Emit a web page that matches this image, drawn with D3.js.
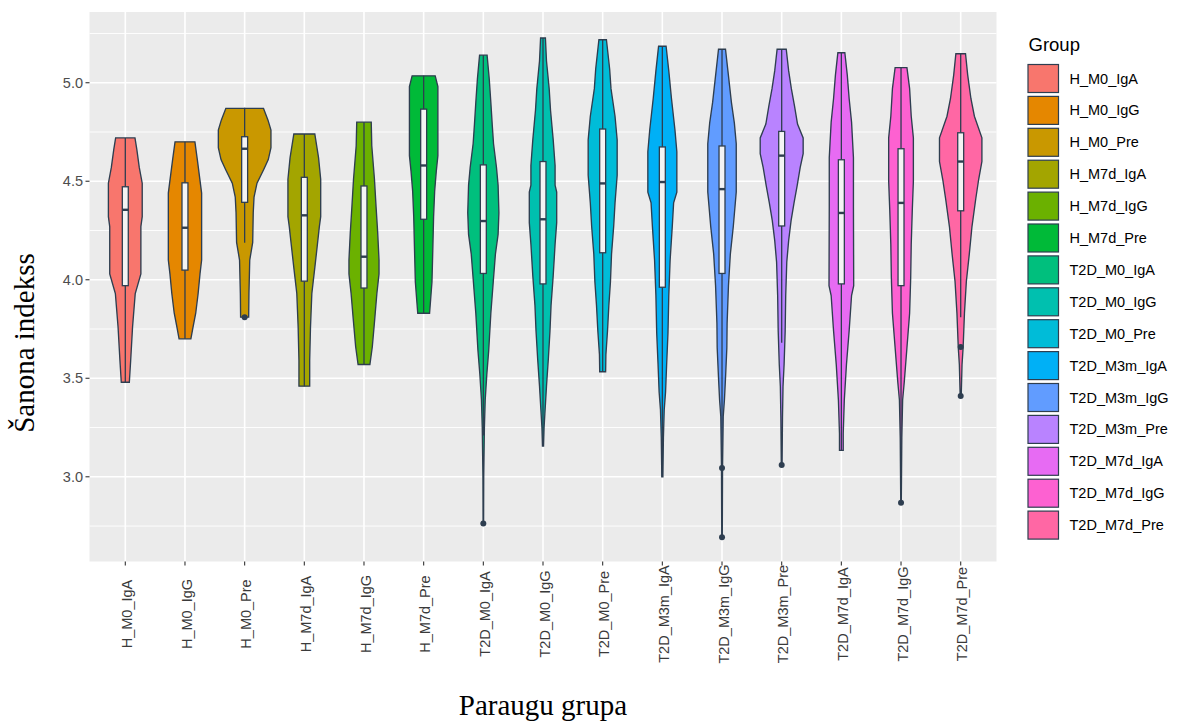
<!DOCTYPE html>
<html><head><meta charset="utf-8">
<script src="https://cdn.jsdelivr.net/npm/d3@7"></script>
<style>body{margin:0;background:#fff}</style>
</head><body><svg id="c" width="1183" height="722"></svg>
<script>
// ---------- data ----------
const groups = ["H_M0_IgA","H_M0_IgG","H_M0_Pre","H_M7d_IgA","H_M7d_IgG","H_M7d_Pre",
  "T2D_M0_IgA","T2D_M0_IgG","T2D_M0_Pre","T2D_M3m_IgA","T2D_M3m_IgG","T2D_M3m_Pre",
  "T2D_M7d_IgA","T2D_M7d_IgG","T2D_M7d_Pre"];
const fills = ["#F8766D","#E58700","#C99800","#A3A500","#6BB100","#00BA38","#00BF7D","#00C0AF",
  "#00BCD8","#00B0F6","#619CFF","#B983FF","#E76BF3","#FD61D1","#FF67A4"];
const yTicks = [3.0, 3.5, 4.0, 4.5, 5.0];
const yMinor = [2.75, 3.25, 3.75, 4.25, 4.75, 5.25];

// violin density profiles: [value, relative density]
const d01 = [[4.72,0.36],[4.66,0.43],[4.57,0.52],[4.49,0.63],[4.32,0.63],[4.27,0.58],[4.03,0.58],[3.93,0.37],[3.76,0.27],[3.59,0.20],[3.48,0.15]];
const d02 = [[4.70,0.37],[4.61,0.46],[4.44,0.62],[4.10,0.62],[4.03,0.56],[3.93,0.49],[3.83,0.40],[3.76,0.30],[3.70,0.22]];
const d03 = [[4.87,0.70],[4.81,0.87],[4.76,0.98],[4.67,0.98],[4.61,0.88],[4.56,0.71],[4.49,0.46],[4.42,0.35],[4.34,0.32],[4.19,0.30],[4.10,0.19],[3.93,0.16],[3.81,0.15]];
const d04 = [[4.74,0.39],[4.62,0.53],[4.51,0.61],[4.32,0.61],[4.27,0.56],[4.17,0.48],[4.06,0.39],[3.93,0.28],[3.76,0.23],[3.59,0.20],[3.46,0.20]];
const d05 = [[4.80,0.27],[4.68,0.29],[4.51,0.39],[4.37,0.45],[4.24,0.51],[4.10,0.56],[4.03,0.56],[3.93,0.48],[3.80,0.40],[3.66,0.31],[3.57,0.22]];
const d06 = [[5.035,0.43],[4.98,0.53],[4.63,0.53],[4.55,0.47],[4.45,0.41],[4.32,0.37],[4.15,0.34],[3.99,0.31],[3.90,0.26],[3.83,0.22]];
const d07 = [[5.14,0.14],[5.02,0.22],[4.90,0.28],[4.79,0.33],[4.69,0.38],[4.57,0.49],[4.48,0.55],[4.34,0.58],[4.23,0.55],[4.13,0.45],[3.99,0.37],[3.83,0.28],[3.64,0.20],[3.52,0.13],[3.39,0.07],[3.25,0.04],[3.00,0.015],[2.76,0.01]];
const d08 = [[5.227,0.09],[5.11,0.13],[4.97,0.23],[4.86,0.28],[4.71,0.38],[4.58,0.45],[4.48,0.45],[4.445,0.51],[4.29,0.51],[4.18,0.45],[4.02,0.38],[3.87,0.30],[3.74,0.26],[3.60,0.20],[3.46,0.13],[3.32,0.07],[3.25,0.04],[3.156,0.02]];
const d09 = [[5.218,0.14],[5.07,0.26],[4.97,0.31],[4.83,0.46],[4.71,0.54],[4.53,0.54],[4.39,0.46],[4.27,0.41],[4.13,0.33],[3.99,0.29],[3.87,0.23],[3.74,0.18],[3.62,0.12],[3.533,0.11]];
const d10 = [[5.185,0.14],[5.06,0.24],[4.92,0.34],[4.76,0.47],[4.65,0.54],[4.445,0.54],[4.39,0.42],[4.27,0.37],[4.10,0.29],[3.92,0.24],[3.73,0.21],[3.57,0.16],[3.43,0.12],[3.34,0.07],[3.20,0.04],[3.00,0.02]];
const d11 = [[5.17,0.13],[5.06,0.22],[4.90,0.35],[4.795,0.46],[4.69,0.53],[4.445,0.53],[4.27,0.42],[4.13,0.31],[3.97,0.24],[3.78,0.19],[3.655,0.18],[3.50,0.13],[3.39,0.09],[3.305,0.045],[3.05,0.02],[2.693,0.01]];
const d12 = [[5.17,0.17],[5.06,0.26],[4.97,0.36],[4.88,0.48],[4.79,0.59],[4.72,0.80],[4.64,0.80],[4.57,0.69],[4.48,0.58],[4.39,0.46],[4.30,0.35],[4.20,0.26],[4.09,0.19],[3.92,0.15],[3.74,0.13],[3.57,0.09],[3.46,0.05],[3.30,0.03],[3.06,0.015]];
const d13 = [[5.152,0.13],[5.04,0.22],[4.92,0.29],[4.80,0.38],[4.62,0.45],[4.37,0.45],[3.97,0.46],[3.92,0.38],[3.74,0.29],[3.57,0.19],[3.39,0.11],[3.22,0.07],[3.134,0.07]];
const d14 = [[5.077,0.22],[4.97,0.32],[4.83,0.38],[4.72,0.46],[4.50,0.46],[4.355,0.42],[4.18,0.38],[4.01,0.36],[3.83,0.32],[3.655,0.22],[3.48,0.12],[3.39,0.06],[3.20,0.03],[3.03,0.02],[2.868,0.01]];
const d15 = [[5.147,0.18],[5.04,0.26],[4.92,0.38],[4.83,0.51],[4.72,0.79],[4.60,0.79],[4.51,0.67],[4.41,0.56],[4.27,0.42],[4.13,0.32],[3.99,0.21],[3.83,0.14],[3.655,0.09],[3.57,0.05],[3.41,0.02]];
const densities = [d01,d02,d03,d04,d05,d06,d07,d08,d09,d10,d11,d12,d13,d14,d15];

// boxplot statistics
const q1  = [3.970,4.049,4.393,3.993,3.958,4.307,4.032,3.979,4.137,3.962,4.032,4.273,3.979,3.970,4.350];
const med = [4.355,4.264,4.665,4.327,4.117,4.580,4.298,4.307,4.489,4.496,4.460,4.630,4.339,4.390,4.600];
const q3  = [4.472,4.492,4.726,4.520,4.476,4.866,4.583,4.600,4.765,4.674,4.679,4.753,4.609,4.665,4.746];
const wLo = [3.48,3.70,4.188,3.46,3.57,3.83,3.21,3.156,3.533,3.00,3.10,3.68,3.134,3.03,3.81];
const wHi = [4.72,4.70,4.873,4.74,4.80,5.035,5.14,5.227,5.218,5.185,5.17,5.17,5.152,5.077,5.147];
const outliers = [[],[],[3.81],[],[],[],[2.763],[],[],[],[3.044,2.693],[3.06],[],[2.868],[3.659,3.41]];

// ---------- layout ----------
const svg = d3.select("#c");
const P = {l:89.5, r:996.5, t:12, b:561.5};
const dark = "#2E3E50";

const x = d3.scalePoint().domain(groups).range([P.l, P.r]).padding(0.6);
const step = x.step();
const y = d3.scaleLinear().domain([2.570, 5.359]).range([P.b, P.t]);
const w = d3.scaleLinear().domain([0, 1]).range([0, 0.45 * step]);

// panel
svg.append("rect").attr("x",P.l).attr("y",P.t).attr("width",P.r-P.l).attr("height",P.b-P.t).attr("fill","#EBEBEB");
const g = svg.append("g");
g.selectAll("line.minor").data(yMinor).join("line")
  .attr("x1",P.l).attr("x2",P.r).attr("y1",d=>y(d)).attr("y2",d=>y(d))
  .attr("stroke","#fff").attr("stroke-width",0.9);
g.selectAll("line.majy").data(yTicks).join("line")
  .attr("x1",P.l).attr("x2",P.r).attr("y1",d=>y(d)).attr("y2",d=>y(d))
  .attr("stroke","#fff").attr("stroke-width",1.6);
g.selectAll("line.majx").data(groups).join("line")
  .attr("y1",P.t).attr("y2",P.b).attr("x1",d=>x(d)).attr("x2",d=>x(d))
  .attr("stroke","#fff").attr("stroke-width",1.6);

// violins
groups.forEach((grp, i) => {
  const cx = x(grp);
  const area = d3.area()
    .y(d => y(d[0]))
    .x0(d => cx - w(d[1]))
    .x1(d => cx + w(d[1]))
    .curve(d3.curveLinear);
  svg.append("path").attr("d", area(densities[i]) + "Z")
    .attr("fill", fills[i]).attr("stroke", dark).attr("stroke-width", 1.35)
    .attr("stroke-linejoin","miter");
});

// boxplots
const bw = 0.1 * step;
groups.forEach((grp, i) => {
  const cx = x(grp);
  const gg = svg.append("g");
  gg.append("line").attr("x1",cx).attr("x2",cx).attr("y1",y(q3[i])).attr("y2",y(wHi[i]))
    .attr("stroke",dark).attr("stroke-width",1.3);
  gg.append("line").attr("x1",cx).attr("x2",cx).attr("y1",y(q1[i])).attr("y2",y(wLo[i]))
    .attr("stroke",dark).attr("stroke-width",1.3);
  gg.append("rect").attr("x",cx-bw/2).attr("width",bw)
    .attr("y",y(q3[i])).attr("height",y(q1[i])-y(q3[i]))
    .attr("fill","#F4F4F4").attr("stroke",dark).attr("stroke-width",1.3);
  gg.append("line").attr("x1",cx-bw/2).attr("x2",cx+bw/2).attr("y1",y(med[i])).attr("y2",y(med[i]))
    .attr("stroke",dark).attr("stroke-width",2.4);
  gg.selectAll("circle").data(outliers[i]).join("circle")
    .attr("cx",cx).attr("cy",d=>y(d)).attr("r",3).attr("fill",dark);
});

// axes
const tickCol = "#4D4D4D";
svg.selectAll("line.yt").data(yTicks).join("line")
  .attr("x1",P.l-4).attr("x2",P.l).attr("y1",d=>y(d)).attr("y2",d=>y(d))
  .attr("stroke","#333").attr("stroke-width",1.1);
svg.selectAll("text.yl").data(yTicks).join("text")
  .attr("x",P.l-6.5).attr("y",d=>y(d)).attr("dy","0.35em")
  .attr("text-anchor","end").attr("fill",tickCol)
  .style("font-family","Liberation Sans, Arial, sans-serif").style("font-size","14.5px")
  .text(d=>d3.format(".1f")(d));
svg.selectAll("line.xt").data(groups).join("line")
  .attr("x1",d=>x(d)).attr("x2",d=>x(d)).attr("y1",P.b).attr("y2",P.b+4)
  .attr("stroke","#333").attr("stroke-width",1.1);
svg.selectAll("text.xl").data(groups).join("text")
  .attr("transform",d=>`translate(${x(d)+1.5},614) rotate(-90)`)
  .attr("dy","0.35em").attr("text-anchor","middle").attr("fill","#3A3A3A")
  .style("font-family","Liberation Sans, Arial, sans-serif").style("font-size","14.5px")
  .text(d=>d);

// axis titles
svg.append("text").attr("x",(P.l+P.r)/2).attr("y",715).attr("text-anchor","middle")
  .style("font-family","Liberation Serif, Times New Roman, serif").style("font-size","29px")
  .attr("fill","#000").text("Paraugu grupa");
svg.append("text").attr("transform","translate(33.5,343) rotate(-90)").attr("text-anchor","middle")
  .style("font-family","Liberation Serif, Times New Roman, serif").style("font-size","29px")
  .attr("fill","#000").text("Šanona indekss");

// legend
const lg = svg.append("g");
lg.append("text").attr("x",1028.5).attr("y",51)
  .style("font-family","Liberation Sans, Arial, sans-serif").style("font-size","18.5px")
  .attr("fill","#000").text("Group");
groups.forEach((grp,i)=>{
  const ky = 64.5 + i*31.9;
  lg.append("rect").attr("x",1028).attr("y",ky).attr("width",30.5).attr("height",28)
    .attr("fill",fills[i]).attr("stroke",dark).attr("stroke-width",1.2);
  lg.append("text").attr("x",1069.5).attr("y",ky+14).attr("dy","0.35em")
    .style("font-family","Liberation Sans, Arial, sans-serif").style("font-size","14.5px")
    .attr("fill","#000").text(grp);
});
</script></body></html>
